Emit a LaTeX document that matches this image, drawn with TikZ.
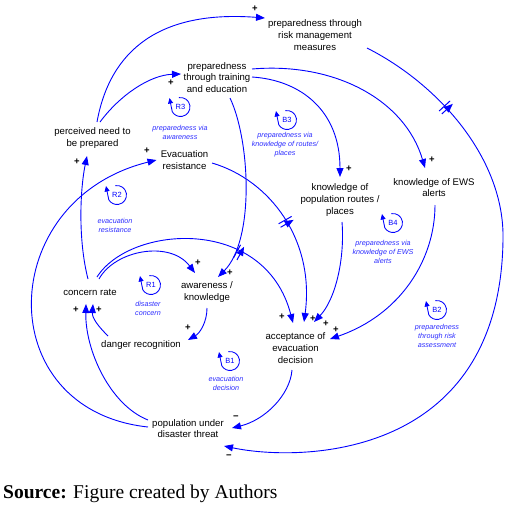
\documentclass[tikz,border=0pt]{standalone}
\usepackage{fontspec}
\setmainfont{Liberation Sans}
\newfontfamily\capfont{Liberation Serif}
\usetikzlibrary{arrows.meta}
\definecolor{cldblue}{RGB}{0,0,255}
\definecolor{lbblue}{RGB}{45,45,255}
\newcommand\myhashmark{\tikz\draw[cldblue,line width=1pt] (-2pt,-7.5pt)--(-2pt,7.5pt) (2pt,-7.5pt)--(2pt,7.5pt);}
\tikzset{
 var/.style={align=center,font=\fontsize{9.6}{11.7}\selectfont,inner sep=0pt},
 link/.style={draw=cldblue,line width=0.9pt,-{Triangle[length=9pt,width=7pt]}},
 sgn/.style={font=\fontsize{9.5}{9.5}\selectfont\bfseries,inner sep=0pt},
 hashnode/.style={sloped,inner sep=0pt,outer sep=0pt,anchor=center},
 looplab/.style={align=center,text=lbblue,font=\fontsize{7.2}{8.9}\selectfont\itshape,inner sep=0pt},
 pics/loopmark/.style={code={
   \draw[cldblue,line width=0.85pt,-{Triangle[length=5.5pt,width=5pt]}] (100:9.5pt) arc[start angle=100,end angle=-150,radius=9.5pt] -- (-11pt,9pt);
   \node[text=cldblue,font=\fontsize{7.5}{7.5}\selectfont,inner sep=0pt] (-t) {#1};
 }},
}
\begin{document}
\begin{tikzpicture}[x=1pt,y=-1pt]
\useasboundingbox (0,0) rectangle (520,507);
% variables
\node[var] (rm) at (315,35) {preparedness through\\risk management\\measures};
\node[var] (pt) at (217,77.5) {preparedness\\through training\\and education};
\node[var] (pn) at (92.5,138) {perceived need to\\be prepared};
\node[var] (er) at (184.5,160) {Evacuation\\resistance};
\node[var] (kp) at (340,200) {knowledge of\\population routes /\\places};
\node[var] (ke) at (434,187.5) {knowledge of EWS\\alerts};
\node[var] (cr) at (90,292) {concern rate};
\node[var] (aw) at (207,292) {awareness /\\knowledge};
\node[var] (dr) at (141,345) {danger recognition};
\node[var] (ac) at (295.5,348) {acceptance of\\evacuation\\decision};
\node[var] (pu) at (188,428.5) {population under\\disaster threat};
\coordinate (m6) at (503,240);
% links
\draw[link] ([shift={(4.5,-16)}]pn.center) .. controls (110,50) and (160,10) .. ([shift={(-50,-17)}]rm.center);
\draw[link] ([shift={(7.5,-16)}]pn.center) .. controls (120,95) and (150,75) .. ([shift={(-36,-3.5)}]pt.center);
\draw[link] ([shift={(35,-0.5)}]pt.center) .. controls (300,80) and (340,110) .. ([shift={(0,-23)}]kp.center);
\draw[link] ([shift={(35,-8.5)}]pt.center) .. controls (335,62) and (405,100) .. ([shift={(-9,-19.5)}]ke.center);
\draw[link] ([shift={(13,20.5)}]pt.center) .. controls (250,140) and (255,240) .. ([shift={(11,-15)}]aw.center);
\draw[link] ([shift={(52,13)}]rm.center) .. controls (440,85) and (505,160) .. (m6) node[hashnode,pos=0.4] (h1) {\myhashmark} .. controls (500,460) and (300,462) .. ([shift={(36,17.5)}]pu.center);
\draw[link] ([shift={(1,17.5)}]ke.center) .. controls (435,260) and (400,315) .. ([shift={(34.5,-9)}]ac.center);
\draw[link] ([shift={(2,22)}]kp.center) .. controls (345,260) and (335,300) .. ([shift={(18.5,-26)}]ac.center);
\draw[link] ([shift={(27.5,3)}]er.center) .. controls (270,180) and (315,240) .. ([shift={(8.5,-26)}]ac.center) node[hashnode,pos=0.53] (h2) {\myhashmark};
\draw[link] ([shift={(7,-15)}]cr.center) .. controls (130,225) and (265,215) .. ([shift={(-2.5,-25)}]ac.center) node[hashnode,pos=0.68] (h3) {\myhashmark};
\draw[link] ([shift={(9,-13)}]cr.center) .. controls (115,250) and (170,240) .. ([shift={(-12,-19)}]aw.center);
\draw[link] ([shift={(-2,-13)}]cr.center) .. controls (78,240) and (80,190) .. ([shift={(-5.5,18)}]pn.center);
\draw[link] ([shift={(-40,-1.5)}]pu.center) .. controls (-10,410) and (-5,200) .. ([shift={(-28,0)}]er.center);
\draw[link] ([shift={(-40,-8.5)}]pu.center) .. controls (110,405) and (85,350) .. ([shift={(-4,12)}]cr.center);
\draw[link] ([shift={(-33,-9)}]dr.center) .. controls (98,326) and (92,318) .. ([shift={(3,12)}]cr.center);
\draw[link] ([shift={(0,16)}]aw.center) .. controls (207,322) and (200,333) .. ([shift={(47,-5)}]dr.center);
\draw[link] ([shift={(-3.5,22)}]ac.center) .. controls (290,395) and (265,420) .. ([shift={(44,-0.5)}]pu.center);
% polarities
\node[sgn] (s1) at (255,9) {+};
\node[sgn] (s2) at (171,83) {+};
\node[sgn] (s3) at (349,169) {+};
\node[sgn] (s4) at (432,160) {+};
\node[sgn] (s5) at (230,273) {+};
\node[sgn] (s6) at (229,457) {−};
\node[sgn] (s7) at (336,330) {+};
\node[sgn] (s8) at (326,324) {+};
\node[sgn] (s9) at (313,319) {+};
\node[sgn] (s10) at (282,317) {+};
\node[sgn] (s11) at (77,162) {+};
\node[sgn] (s12) at (147,151) {+};
\node[sgn] (s13) at (76,310) {+};
\node[sgn] (s14) at (99,310) {+};
\node[sgn] (s15) at (198,263) {+};
\node[sgn] (s16) at (188,328) {+};
\node[sgn] (s17) at (236,418) {−};
% loop markers
\pic (r3) at (180.5,107) {loopmark=R3};
\pic (b3) at (287,120) {loopmark=B3};
\pic (r2) at (117,195) {loopmark=R2};
\pic (b4) at (393,223) {loopmark=B4};
\pic (r1) at (151,285) {loopmark=R1};
\pic (b1) at (230,361) {loopmark=B1};
\pic (b2) at (437,310) {loopmark=B2};
\node[looplab] (l3) at (180,132) {preparedness via\\awareness};
\node[looplab] (lb3) at (285,145) {preparedness via\\knowledge of routes/\\places};
\node[looplab] (l2) at (115,225) {evacuation\\resistance};
\node[looplab] (lb4) at (383,252) {preparedness via\\knowledge of EWS\\alerts};
\node[looplab] (l1) at (148,308.5) {disaster\\concern};
\node[looplab] (lb1) at (226,383) {evacuation\\decision};
\node[looplab] (lb2) at (437,336) {preparedness\\through risk\\assessment};
% caption
\node[anchor=base west,inner sep=0pt,font=\capfont\fontsize{19.5}{19.5}\selectfont] (cap) at (3,498) {\textbf{Source:} Figure created by Authors};
\end{tikzpicture}
\end{document}
